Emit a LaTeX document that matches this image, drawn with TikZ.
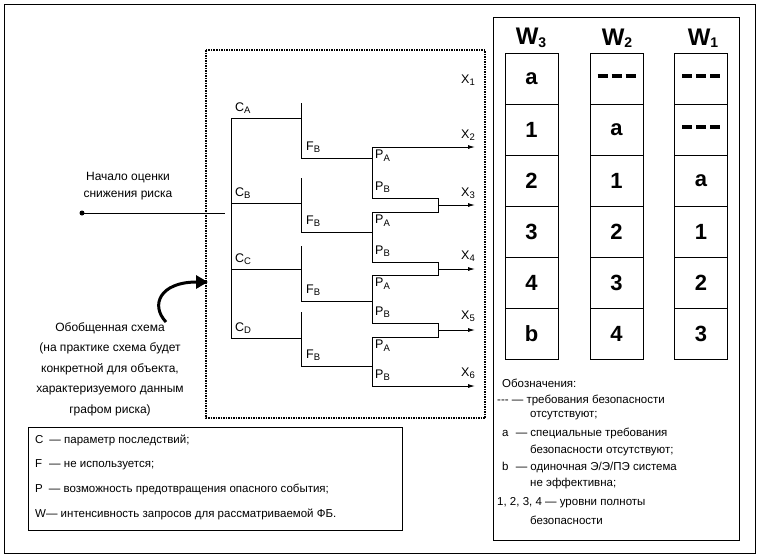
\documentclass[tikz,border=0pt]{standalone}
\usepackage{fontspec}
\setmainfont{Liberation Sans}
\usetikzlibrary{arrows.meta}
\newcommand{\sbs}[1]{\raisebox{-2.5pt}{\fontsize{9.5}{10}\selectfont #1}}
\newcommand{\hhh}{{-}{-}{-}}
\newcommand{\bdash}{\raisebox{6pt}{\rule{10pt}{3.2pt}\hspace{4pt}\rule{10pt}{3.2pt}\hspace{4pt}\rule{10pt}{3.2pt}}}
\begin{document}
\begin{tikzpicture}[x=1pt,y=-1pt,
  ln/.style={line width=0.9pt},
  arr/.style={ln,-{Latex[length=7pt,width=4pt]}},
  lbl/.style={font=\fontsize{12.5}{14}\selectfont,inner sep=0pt},
  cell/.style={draw,line width=0.9pt,minimum width=53pt,minimum height=51pt,font=\bfseries\fontsize{22}{24}\selectfont,inner sep=0pt},
  hd/.style={font=\bfseries\fontsize{24}{26}\selectfont,inner sep=0pt},
  txt/.style={font=\fontsize{11.5}{13}\selectfont,inner sep=0pt,anchor=west}]
\useasboundingbox (0,0) rectangle (759,558);
\draw[line width=1pt] (4,4) rectangle (755,553);
\draw[dotted,line cap=butt,dash pattern=on 1.5pt off 1pt,line width=1.6pt] (206,50) rectangle (485,418);
% input
\fill (82,213) circle (2.5pt);
\coordinate (in) at (82,213);
\coordinate (inE) at (225,213);
\draw[ln] (in) -- (inE);
\node[lbl,align=center,font=\fontsize{12}{17}\selectfont] (start) at (128,186) {Начало оценки\\снижения риска};
% curved arrow
\coordinate (ca) at (166,322);
\coordinate (cb) at (208,282);
\draw[line width=3pt,-{Triangle[length=12pt,width=13pt]}] (ca) .. controls (150,305) and (160,282) .. (cb);
\node[lbl,align=center,font=\fontsize{12}{20.5}\selectfont] (gen) at (110,369) {Обобщенная схема\\(на практике схема будет\\конкретной для объекта,\\характеризуемого данным\\графом риска)};
% C tree
\coordinate (c0) at (231,118); \coordinate (c3) at (231,338);
\draw[ln] (c0) -- (c3);
\foreach \y/\l [count=\i] in {118/A,203/B,269/C,338/D}{
  \coordinate (cl\i) at (231,\y); \coordinate (cr\i) at (301,\y);
  \draw[ln] (cl\i) -- (cr\i);
  \node[lbl,anchor=south west] (C\i) at (235,\y-4) {C\sbs{\l}};
}
\foreach \t/\b [count=\i] in {103/158,178/232,246/301,312/366}{
  \coordinate (ft\i) at (301,\t); \coordinate (fb\i) at (301,\b); \coordinate (fe\i) at (372,\b);
  \draw[ln] (ft\i) -- (fb\i) -- (fe\i);
  \node[lbl,anchor=south west] (F\i) at (306,\b-5) {F\sbs{B}};
}
\foreach \t/\b [count=\i] in {147/198,212/262,275/323,337/386}{
  \coordinate (pt\i) at (372,\t); \coordinate (pb\i) at (372,\b);
  \draw[ln] (pt\i) -- (pb\i);
  \node[lbl,anchor=north west] (PA\i) at (375,\t+3) {P\sbs{A}};
  \node[lbl,anchor=south west] (PB\i) at (375,\b-5) {P\sbs{B}};
}
\coordinate (x2e) at (475,147);
\draw[arr] (pt1) -- (x2e);
\coordinate (x6s) at (372,386); \coordinate (x6e) at (475,386);
\draw[arr] (x6s) -- (x6e);
\foreach \a/\b/\m/\j in {198/212/205/1,262/275/269/2,323/337/330/3}{
  \draw[ln] (372,\a) -- (438,\a) -- (438,\b) -- (372,\b);
  \coordinate (mj\j) at (438,\m); \coordinate (me\j) at (475,\m);
  \draw[arr] (mj\j) -- (me\j);
}
\foreach \y/\n in {80/1,135/2,193/3,256/4,316/5,373/6}
  \node[lbl] (X\n) at (468,\y) {X\sbs{\n}};
% bottom legend
\draw[line width=0.9pt] (28,427) rectangle (402,530);
\node[txt] (l1) at (35,440) {C\hspace{6pt}— параметр последствий;};
\node[txt] (l2) at (35,465) {F\hspace{7pt}— не используется;};
\node[txt] (l3) at (35,489) {P\hspace{6pt}— возможность предотвращения опасного события;};
\node[txt] (l4) at (35,514) {W— интенсивность запросов для рассматриваемой ФБ.};
% right panel
\draw[line width=1pt] (493,17) rectangle (739,540);
\node[hd] (w3) at (531,38) {W\sbs{\bfseries\fontsize{14}{14}\selectfont 3}};
\node[hd] (w2) at (617,38) {W\sbs{\bfseries\fontsize{14}{14}\selectfont 2}};
\node[hd] (w1) at (703,38) {W\sbs{\bfseries\fontsize{14}{14}\selectfont 1}};
\foreach \a/\b/\c [count=\i] in {a/\bdash/\bdash,1/a/\bdash,2/1/a,3/2/1,4/3/2,b/4/3}{
  \node[cell] (r\i a) at (531.5,28+51*\i) {\a};
  \node[cell] (r\i b) at (616.5,28+51*\i) {\b};
  \node[cell] (r\i c) at (701,28+51*\i) {\c};
}
\node[txt] (o0) at (502,383) {Обозначения:};
\node[txt] (o1) at (497,400) {\hhh{} — требования безопасности};
\node[txt] (o1b) at (530,416) {отсутствуют;};
\node[txt] (o2) at (502,433) {a\hspace{4pt} — специальные требования};
\node[txt] (o2b) at (530,450) {безопасности отсутствуют;};
\node[txt] (o3) at (502,467) {b\hspace{4pt} — одиночная Э/Э/ПЭ система};
\node[txt] (o3b) at (530,484) {не эффективна;};
\node[txt] (o4) at (497,503) {1, 2, 3, 4 — уровни полноты};
\node[txt] (o4b) at (530,520) {безопасности};
\end{tikzpicture}
\end{document}
